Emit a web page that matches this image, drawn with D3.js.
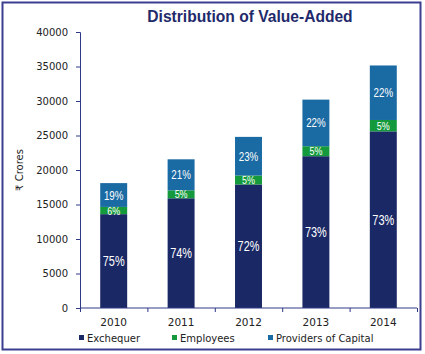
<!DOCTYPE html>
<html>
<head>
<meta charset="utf-8">
<script src="https://cdn.jsdelivr.net/npm/d3@7"></script>
<style>
  body { margin: 0; background: #fff; }
  svg { display: block; }
</style>
</head>
<body>
<div id="chart"></div>
<script>
// data, in crores
const years = ['2010', '2011', '2012', '2013', '2014']
const exchequer = [13600, 15900, 17900, 22000, 25600]
const employees = [1050, 1150, 1300, 1450, 1650]
const capital = [3450, 4500, 5600, 6750, 7900]
const seriesNames = ['Exchequer', 'Employees', 'Providers of Capital']
const yTicks = [0, 5000, 10000, 15000, 20000, 25000, 30000, 35000, 40000]

const colors = ['#1a2865', '#149a3c', '#1a6aa3']
const axisColor = '#2e3a87'

const width = 425
const height = 354
const margin = {top: 32, right: 8, bottom: 46, left: 80}
const innerW = 417 - margin.left
const innerH = 308 - margin.top

const rows = years.map((y, i) => ({
  year: y,
  Exchequer: exchequer[i],
  Employees: employees[i],
  'Providers of Capital': capital[i]
}))

const svg = d3.select('#chart').append('svg')
  .attr('width', width)
  .attr('height', height)

// outer frame
svg.append('rect')
  .attr('x', 2.5).attr('y', 2.5)
  .attr('width', 418).attr('height', 347)
  .attr('fill', 'none')
  .attr('stroke', '#3a3f8f')
  .attr('stroke-width', 2)

svg.append('text')
  .attr('x', 250).attr('y', 22)
  .attr('text-anchor', 'middle')
  .style('font-family', 'Liberation Sans, Arial, sans-serif')
  .style('font-weight', 'bold')
  .style('font-size', '15.6px')
  .attr('fill', '#1f2a6b')
  .text('Distribution of Value-Added')

const g = svg.append('g')
  .attr('transform', `translate(${margin.left},${margin.top})`)

const x = d3.scaleBand().domain(years).range([0, innerW]).paddingInner(0.6).paddingOuter(0.3)
const y = d3.scaleLinear().domain([0, 40000]).range([innerH, 0])

const stack = d3.stack().keys(seriesNames)
const layers = stack(rows)

const layerG = g.selectAll('.layer')
  .data(layers).enter()
  .append('g')
  .attr('fill', (d, i) => colors[i])

layerG.selectAll('rect')
  .data(d => d).enter()
  .append('rect')
  .attr('x', d => x(d.data.year))
  .attr('y', d => y(d[1]))
  .attr('width', x.bandwidth())
  .attr('height', d => y(d[0]) - y(d[1]))

// percentage labels, squeezed to look like a narrow face
const pct = d3.format('.0%')
const labelSize = [14, 11.5, 12.5]
layers.forEach((layer, li) => {
  g.selectAll('.lbl' + li)
    .data(layer).enter()
    .append('text')
    .attr('transform', d => {
      let cx = x(d.data.year) + x.bandwidth() / 2
      let cy = (y(d[0]) + y(d[1])) / 2
      return `translate(${cx},${cy}) scale(0.78,1)`
    })
    .attr('dy', '0.36em')
    .attr('text-anchor', 'middle')
    .attr('fill', '#fff')
    .style('font-family', 'Liberation Sans, Arial, sans-serif')
    .style('font-size', labelSize[li] + 'px')
    .text(d => {
      let total = d.data.Exchequer + d.data.Employees + d.data['Providers of Capital']
      return pct((d[1] - d[0]) / total)
    })
})

// y axis
const yAxis = g.append('g')
  .call(d3.axisLeft(y).tickValues(yTicks).tickSize(4).tickPadding(8).tickFormat(d3.format('d')))
yAxis.selectAll('line, path').attr('stroke', axisColor)
yAxis.select('.domain').attr('d', `M-4,0.5H0.5V${innerH}`)
yAxis.selectAll('text')
  .attr('fill', '#222')
  .style('font-family', 'DejaVu Sans, sans-serif')
  .style('font-size', '10px')

// x axis, ticks at band edges
const xAxis = g.append('g').attr('transform', `translate(0,${innerH})`)
xAxis.append('line')
  .attr('x1', 0).attr('x2', innerW)
  .attr('stroke', axisColor)
const step = x.step()
d3.range(years.length + 1).forEach(i => {
  xAxis.append('line')
    .attr('x1', i * step + 0.5).attr('x2', i * step + 0.5)
    .attr('y1', 0).attr('y2', 4)
    .attr('stroke', axisColor)
})
xAxis.selectAll('.xl')
  .data(years).enter()
  .append('text')
  .attr('x', d => x(d) + x.bandwidth() / 2)
  .attr('y', 18)
  .attr('text-anchor', 'middle')
  .attr('fill', '#222')
  .style('font-family', 'DejaVu Sans, sans-serif')
  .style('font-size', '10.5px')
  .text(d => d)

// y label
svg.append('text')
  .attr('transform', `translate(23,${margin.top + innerH / 2}) rotate(-90)`)
  .attr('text-anchor', 'middle')
  .attr('fill', '#222')
  .style('font-family', 'DejaVu Sans, sans-serif')
  .style('font-size', '10px')
  .text('₹ Crores')

// legend
const legendX = [79, 172, 268]
const legend = svg.selectAll('.leg')
  .data(seriesNames).enter()
  .append('g')
  .attr('transform', (d, i) => `translate(${legendX[i]},342)`)
legend.append('rect')
  .attr('x', 0).attr('y', -7)
  .attr('width', 5).attr('height', 5)
  .attr('fill', (d, i) => colors[i])
legend.append('text')
  .attr('x', 8).attr('y', 0)
  .attr('fill', '#222')
  .style('font-family', 'DejaVu Sans, sans-serif')
  .style('font-size', '10px')
  .text(d => d)
</script>
</body>
</html>
